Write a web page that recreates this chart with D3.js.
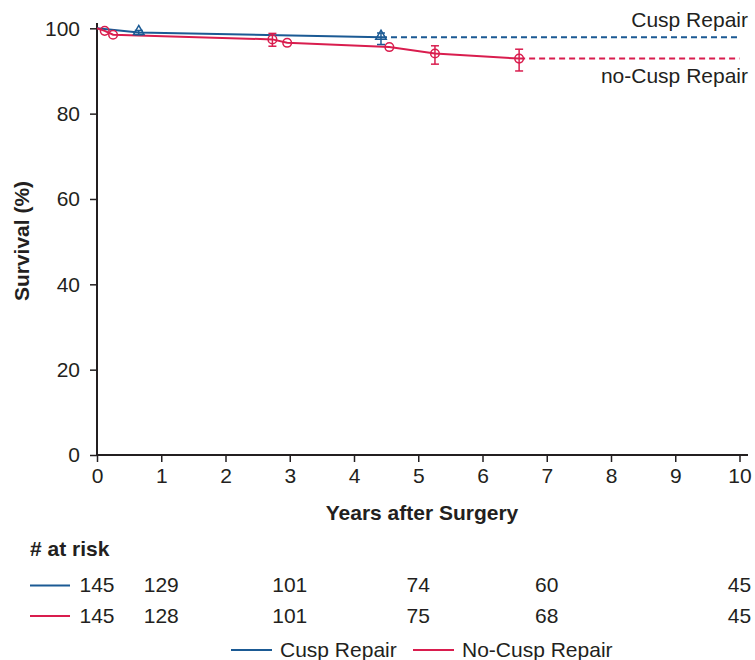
<!DOCTYPE html>
<html>
<head>
<meta charset="utf-8">
<script src="https://cdn.jsdelivr.net/npm/d3@7"></script>
<style>
  body { margin: 0; background: #fff; }
  text { font-family: "Liberation Sans", Arial, sans-serif; fill: #231f20; }
</style>
</head>
<body>
<div id="chart"></div>
<script>
// survival curves (years, %)
var cuspYears = [0, 0.65, 4.42];
var cuspSurv = [100, 99.0, 97.9];
var noCuspYears = [0, 0.12, 0.25, 2.73, 2.96, 4.55, 5.26, 6.57];
var noCuspSurv = [100, 99.4, 98.5, 97.4, 96.6, 95.6, 94.1, 92.9];

// markers: index into the curve, with error bar (lo / hi)
var cuspMarks = [1, 2];
var cuspErrLo = [98.5, 96.2];
var cuspErrHi = [99.5, 98.9];
var noCuspCensor = [1, 2, 4, 5];
var noCuspErrIdx = [3, 6, 7];
var noCuspErrLo = [95.8, 91.6, 90.0];
var noCuspErrHi = [98.8, 95.9, 95.1];

// numbers at risk
var riskYears = [0, 1, 3, 5, 7, 10];
var cuspRisk = [145, 129, 101, 74, 60, 45];
var noCuspRisk = [145, 128, 101, 75, 68, 45];

var xTicks = [0, 1, 2, 3, 4, 5, 6, 7, 8, 9, 10];
var yTicks = [0, 20, 40, 60, 80, 100];

var blue = "#1b5a94";
var red = "#d91d4e";
var ink = "#231f20";
var fs = "21px";

var svg = d3.select("#chart")
	.append("svg")
	.attr("width", 755)
	.attr("height", 660);

var x = d3.scaleLinear().domain([0, 10]).range([97, 739.5]);
var y = d3.scaleLinear().domain([0, 100]).range([455, 28.3]);

// axes
var xAxis = svg.append("g")
	.attr("transform", "translate(0,455)")
	.call(d3.axisBottom(x).tickValues(xTicks).tickSize(7).tickPadding(6).tickSizeOuter(0));
xAxis.select(".domain").remove();
xAxis.selectAll("line").attr("stroke", ink).attr("stroke-width", 1.5);
xAxis.selectAll("text").style("font-size", fs).attr("fill", ink);

var yAxis = svg.append("g")
	.attr("transform", "translate(97,0)")
	.call(d3.axisLeft(y).tickValues(yTicks).tickSize(7).tickPadding(10).tickSizeOuter(0));
yAxis.select(".domain").remove();
yAxis.selectAll("line").attr("stroke", ink).attr("stroke-width", 1.5);
yAxis.selectAll("text").style("font-size", fs).attr("fill", ink);

svg.append("line")
	.attr("x1", 97).attr("x2", 748).attr("y1", 455).attr("y2", 455)
	.attr("stroke", ink).attr("stroke-width", 2);
svg.append("line")
	.attr("x1", 97).attr("x2", 97).attr("y1", 23).attr("y2", 455)
	.attr("stroke", ink).attr("stroke-width", 2);

svg.append("text")
	.attr("x", 422).attr("y", 520)
	.attr("text-anchor", "middle")
	.style("font-size", fs).style("font-weight", "bold")
	.text("Years after Surgery");

svg.append("text")
	.attr("transform", "translate(29,241) rotate(-90)")
	.attr("text-anchor", "middle")
	.style("font-size", fs).style("font-weight", "bold")
	.text("Survival (%)");

// curves
var line = d3.line()
	.x(function(d) { return x(d[0]); })
	.y(function(d) { return y(d[1]); });

function drawCurve(years, surv, color) {
	var pts = years.map(function(t, i) { return [t, surv[i]]; });
	svg.append("path")
		.datum(pts)
		.attr("d", line)
		.attr("fill", "none")
		.attr("stroke", color)
		.attr("stroke-width", 2);
	var last = pts[pts.length - 1];
	svg.append("path")
		.datum([last, [10, last[1]]])
		.attr("d", line)
		.attr("fill", "none")
		.attr("stroke", color)
		.attr("stroke-width", 2)
		.attr("stroke-dasharray", "6,4");
}

drawCurve(cuspYears, cuspSurv, blue);
drawCurve(noCuspYears, noCuspSurv, red);

function errBar(t, lo, hi, color) {
	var g = svg.append("g").attr("stroke", color).attr("stroke-width", 1.5);
	g.append("line").attr("x1", x(t)).attr("x2", x(t)).attr("y1", y(lo)).attr("y2", y(hi));
	g.append("line").attr("x1", x(t) - 4).attr("x2", x(t) + 4).attr("y1", y(lo)).attr("y2", y(lo));
	g.append("line").attr("x1", x(t) - 4).attr("x2", x(t) + 4).attr("y1", y(hi)).attr("y2", y(hi));
}

cuspMarks.forEach(function(i, k) {
	errBar(cuspYears[i], cuspErrLo[k], cuspErrHi[k], blue);
	svg.append("path")
		.attr("d", d3.symbol().type(d3.symbolTriangle).size(48))
		.attr("transform", "translate(" + x(cuspYears[i]) + "," + (y(cuspSurv[i]) - 1) + ")")
		.attr("fill", "none")
		.attr("stroke", blue)
		.attr("stroke-width", 1.5);
});

noCuspErrIdx.forEach(function(i, k) {
	errBar(noCuspYears[i], noCuspErrLo[k], noCuspErrHi[k], red);
});

noCuspCensor.concat(noCuspErrIdx).forEach(function(i) {
	svg.append("circle")
		.attr("cx", x(noCuspYears[i]))
		.attr("cy", y(noCuspSurv[i]))
		.attr("r", 4.3)
		.attr("fill", "none")
		.attr("stroke", red)
		.attr("stroke-width", 1.5);
});

// curve labels
svg.append("text")
	.attr("x", 748).attr("y", 27)
	.attr("text-anchor", "end")
	.style("font-size", fs)
	.text("Cusp Repair");
svg.append("text")
	.attr("x", 748).attr("y", 83)
	.attr("text-anchor", "end")
	.style("font-size", fs)
	.text("no-Cusp Repair");

// number at risk
svg.append("text")
	.attr("x", 30).attr("y", 556)
	.style("font-size", fs).style("font-weight", "bold")
	.text("# at risk");

function riskRow(vals, color, yy) {
	svg.append("line")
		.attr("x1", 30).attr("x2", 70).attr("y1", yy - 6.5).attr("y2", yy - 6.5)
		.attr("stroke", color).attr("stroke-width", 2);
	svg.selectAll(null)
		.data(vals)
		.enter()
		.append("text")
		.attr("x", function(d, i) { return x(riskYears[i]); })
		.attr("y", yy)
		.attr("text-anchor", "middle")
		.style("font-size", fs)
		.text(function(d) { return d; });
}

riskRow(cuspRisk, blue, 592);
riskRow(noCuspRisk, red, 622.5);

// legend
var legend = [["Cusp Repair", blue, 231], ["No-Cusp Repair", red, 413]];
legend.forEach(function(l) {
	svg.append("line")
		.attr("x1", l[2]).attr("x2", l[2] + 41).attr("y1", 650).attr("y2", 650)
		.attr("stroke", l[1]).attr("stroke-width", 2);
	svg.append("text")
		.attr("x", l[2] + 49).attr("y", 656.5)
		.style("font-size", fs)
		.text(l[0]);
});
</script>
</body>
</html>
